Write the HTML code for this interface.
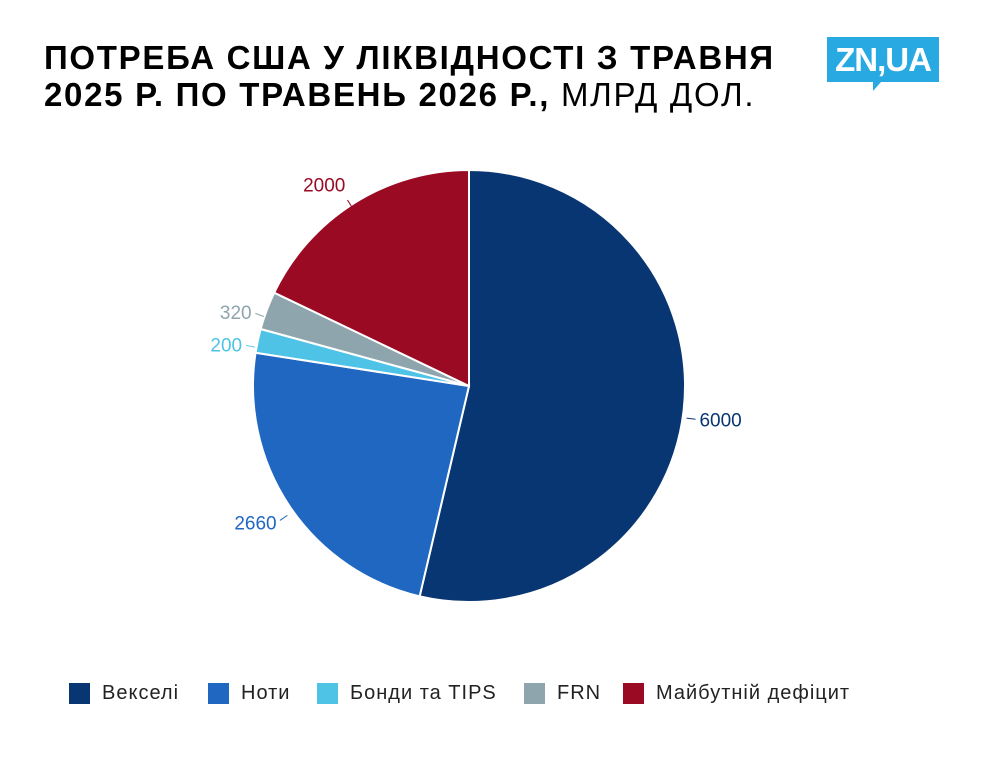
<!DOCTYPE html>
<html><head><meta charset="utf-8"><style>
body{margin:0;width:982px;height:760px;background:#fff;font-family:"Liberation Sans",sans-serif;overflow:hidden;position:relative}
.title{position:absolute;left:44px;top:39px;font-size:33px;line-height:37px;font-weight:bold;color:#000;letter-spacing:1.7px;white-space:nowrap}
.title span{font-weight:normal}
.logo{position:absolute;left:827px;top:37px;width:112px;height:45px;background:#29a9e1;color:#fff;font-weight:bold;font-size:33px;line-height:45px;text-align:center;letter-spacing:-1px}
.logo:after{content:"";position:absolute;left:46px;bottom:-9px;border-left:8px solid #29a9e1;border-bottom:9px solid transparent}
.legend{position:absolute;top:682px;left:0;width:982px;height:24px;font-size:20px;color:#222;letter-spacing:1px}
.li{position:absolute;top:0;display:flex;align-items:center;white-space:nowrap}
.li:nth-child(1){left:69px}.li:nth-child(2){left:208px}.li:nth-child(3){left:317px}.li:nth-child(4){left:524px}.li:nth-child(5){left:623px}
.sw{width:21px;height:21px;margin-right:12px}
</style></head><body>
<div class="title">ПОТРЕБА США У ЛІКВІДНОСТІ З ТРАВНЯ<br>2025 Р. ПО ТРАВЕНЬ 2026 Р., <span>МЛРД ДОЛ.</span></div>
<div class="logo">ZN,UA</div>
<svg id="pie" width="982" height="760" style="position:absolute;left:0;top:0"></svg>
<div class="legend" id="legend"></div>
<script>
const categories=["Векселі","Ноти","Бонди та TIPS","FRN","Майбутній дефіцит"];
const values=[6000,2660,200,320,2000];
const colors=["#083672","#1f67c1","#4fc3e6","#8fa5ad","#9a0a23"];
const labelColors=["#083672","#1f67c1","#4fc3e6","#8fa5ad","#9a0a23"];
const cx=469,cy=386,r=216;
const svg=document.getElementById('pie');
const NS="http://www.w3.org/2000/svg";
const total=values.reduce((a,b)=>a+b,0);
let a0=0;
function pt(a,rr){return [cx+rr*Math.sin(a),cy-rr*Math.cos(a)];}
values.forEach((v,i)=>{
  const a1=a0+v/total*2*Math.PI;
  const p0=pt(a0,r),p1=pt(a1,r);
  const large=(a1-a0)>Math.PI?1:0;
  const path=document.createElementNS(NS,'path');
  path.setAttribute('d',`M${cx},${cy}L${p0[0]},${p0[1]}A${r},${r} 0 ${large} 1 ${p1[0]},${p1[1]}Z`);
  path.setAttribute('fill',colors[i]);path.setAttribute('stroke','#fff');path.setAttribute('stroke-width','2');
  
  
  svg.appendChild(path);
  const m=(a0+a1)/2;
  const l0=pt(m,r+3),l1=pt(m,r+12);
  const ln=document.createElementNS(NS,'line');
  ln.setAttribute('x1',l0[0]);ln.setAttribute('y1',l0[1]+7);ln.setAttribute('x2',l1[0]);ln.setAttribute('y2',l1[1]+7);
  ln.setAttribute('stroke',labelColors[i]);ln.setAttribute('stroke-width','1');
  
  
  svg.appendChild(ln);
  const lt=pt(m,r+16);
  const t=document.createElementNS(NS,'text');
  const s=Math.sin(m),c=Math.cos(m);
  let x=lt[0],y=lt[1]+14,anchor='middle';
  if(s>0.3)anchor='start';else if(s<-0.3)anchor='end';
  if(c>0.8)y-=12; if(c<-0.8)y+=12;
  t.setAttribute('x',x);t.setAttribute('y',y);t.setAttribute('text-anchor',anchor);
  t.setAttribute('fill',labelColors[i]);t.setAttribute('font-size','19');t.setAttribute('font-family','Liberation Sans, sans-serif');
  t.textContent=v;
  
  
  svg.appendChild(t);
  a0=a1;
});
const lg=document.getElementById('legend');
categories.forEach((c,i)=>{
  const d=document.createElement('div');d.className='li';
  
  
  d.innerHTML=`<div class="sw" style="background:${colors[i]}"></div>${c}`;
  lg.appendChild(d);
});
</script>
</body></html>
